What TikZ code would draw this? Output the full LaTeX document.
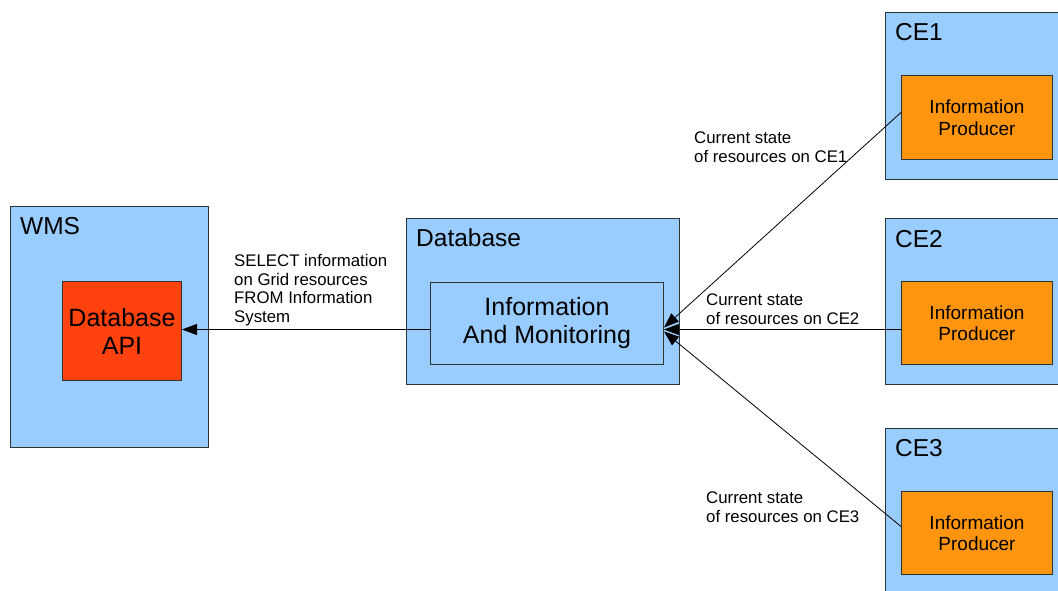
\documentclass[tikz,border=0pt]{standalone}
\usepackage{fontspec}
\setmainfont{Liberation Sans}
\usetikzlibrary{arrows.meta}
\definecolor{paleblue}{HTML}{99CCFF}
\definecolor{tangerine}{HTML}{FF950E}
\definecolor{vermilion}{HTML}{FF420E}
\definecolor{frame}{HTML}{2E3436}

\begin{document}
\begin{tikzpicture}[x=1pt,y=-1pt,
  panel/.style={draw=frame, line width=1pt, fill=paleblue, anchor=north west, inner sep=0pt},
  producer/.style={panel, fill=tangerine, align=center,
    font=\fontsize{19}{21.5}\selectfont},
  component/.style={panel, align=center, font=\fontsize{25}{28}\selectfont},
  heading/.style={anchor=base west, inner sep=0pt, font=\fontsize{24.5}{28}\selectfont},
  note/.style={anchor=north west, inner sep=0pt, align=left,
    font=\fontsize{16.8}{18.7}\selectfont},
  conn/.style={draw=black, line width=0.8pt,
    -{Triangle[length=15pt,width=11pt]}}]

\useasboundingbox (0,0) rectangle (1058,591);
\clip (0,0) rectangle (1058,591);

% Workload management system
\node[panel, minimum width=198pt, minimum height=241pt] (wms) at (10,206) {};
\node[heading] (wmsT) at (20,234) {WMS};
\node[component, fill=vermilion, minimum width=119pt, minimum height=99pt] (api) at (62,281)
  {Database\\API};

% Central database
\node[panel, minimum width=273pt, minimum height=166pt] (db) at (406,218) {};
\node[heading] (dbT) at (416,246) {Database};
\node[component, minimum width=233pt, minimum height=82pt] (iam) at (430,282)
  {Information\\And Monitoring};

% Computing elements
\node[panel, minimum width=190pt, minimum height=167pt] (ce1) at (885,12) {};
\node[heading] (ce1T) at (895,41) {CE1};
\node[producer, minimum width=151pt, minimum height=84pt] (ip1) at (901,75)
  {Information\\Producer};

\node[panel, minimum width=190pt, minimum height=166pt] (ce2) at (885,218) {};
\node[heading] (ce2T) at (895,247) {CE2};
\node[producer, minimum width=151pt, minimum height=83pt] (ip2) at (901,281)
  {Information\\Producer};

\node[panel, minimum width=190pt, minimum height=180pt] (ce3) at (885,428) {};
\node[heading] (ce3T) at (895,456) {CE3};
\node[producer, minimum width=151pt, minimum height=83pt] (ip3) at (901,491)
  {Information\\Producer};

% Data flows
\draw[conn] ([yshift=-6pt]iam.west) -- ([yshift=1.5pt]api.east);
\draw[conn] ([yshift=5pt]ip1.west) -- ([yshift=-4pt]iam.east);
\draw[conn] ([yshift=-6.5pt]ip2.west) -- ([yshift=-6pt]iam.east);
\draw[conn] ([yshift=6.5pt]ip3.west) -- ([yshift=-8pt]iam.east);

% Flow annotations
\node[note] (q) at (234,254) {SELECT information\\on Grid resources\\FROM Information\\System};
\node[note] (s1) at (694,132) {Current state\\of resources on CE1};
\node[note] (s2) at (706,294) {Current state\\of resources on CE2};
\node[note] (s3) at (706,492) {Current state\\of resources on CE3};

\end{tikzpicture}
\end{document}
